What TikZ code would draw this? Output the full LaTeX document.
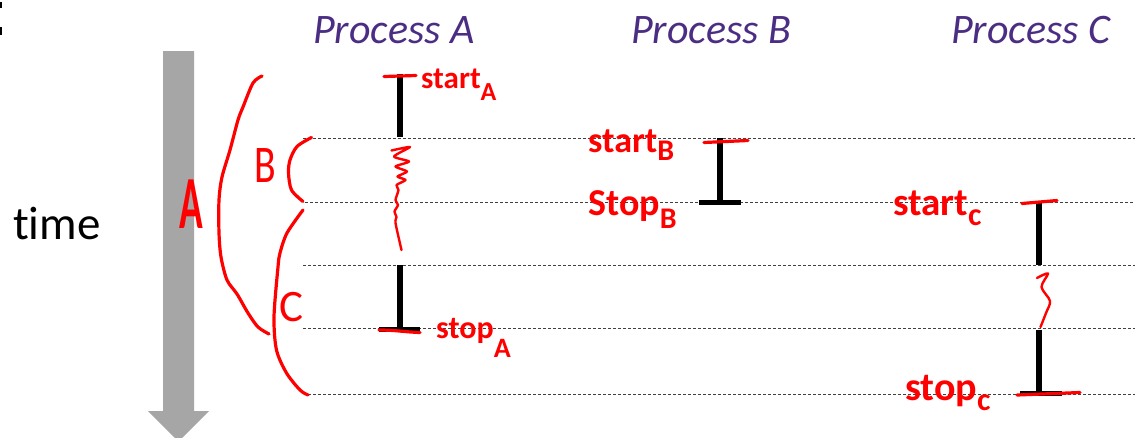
\documentclass[tikz,border=0pt]{standalone}
\usepackage{fontspec}
\setmainfont{Carlito}[Ligatures={NoCommon}]
\usetikzlibrary{calc}
\definecolor{procpurple}{RGB}{75,46,131}
\definecolor{arrowgray}{RGB}{166,166,166}
\definecolor{markred}{RGB}{255,0,0}
\newcommand{\subl}[3]{\raisebox{-#1pt}{\fontsize{#2}{#2}\selectfont #3}}
\tikzset{
  head/.style={text=procpurple, font=\itshape\fontsize{42}{48}\selectfont, anchor=base west, inner sep=0pt},
  dotline/.style={draw=black!75, line width=0.8pt, dash pattern=on 3pt off 2pt},
  bar/.style={draw=black, line width=6pt},
  barcap/.style={draw=black, line width=5pt},
  redmark/.style={draw=markred, line width=3.2pt, line cap=round, line join=round},
  hand/.style={text=markred, anchor=base west, inner sep=0pt},
  bigletter/.style={text=markred, inner sep=0pt, anchor=center}
}
\begin{document}
\begin{tikzpicture}[x=1pt,y=-1pt]
\clip (0,0) rectangle (1135,437);
\fill[white] (0,0) rectangle (1135,437);

% cut-off marks at the top-left edge
\fill[black] (0,2) rectangle (2,8);
\fill[black] (0,27) rectangle (2,35);

% time arrow
\fill[arrowgray] (163,51) -- (194,51) -- (194,411) -- (209,411) -- (178.5,441.5) -- (148,411) -- (163,411) -- cycle;
\node[anchor=base west, inner sep=0pt, font=\fontsize{47}{52}\selectfont] (time) at (13,239) {time};

% headings
\node[head] (pA) at (313,43) {Process A};
\node[head] (pB) at (631,43) {Process B};
\node[head] (pC) at (951,43) {Process C};

% dotted time lines
\foreach \y/\x in {138/303, 202/305, 265/303, 328/303, 394/308}
  \draw[dotline] (\x,\y) -- (1135,\y);

% Process A bars
\coordinate (aT) at (400,74);
\coordinate (aM1) at (400,137);
\coordinate (aM2) at (400,265);
\coordinate (aB) at (400,329);
\draw[bar] (aT) -- (aM1);
\draw[bar] (aM2) -- (aB);
\coordinate (aCl) at (379,329);
\coordinate (aCr) at (420,329);
\draw[barcap] (aCl) -- (aCr);

% Process B bars
\coordinate (bT) at (720,138);
\coordinate (bB) at (720,202);
\draw[bar] (bT) -- (bB);
\coordinate (bCl) at (699,202);
\coordinate (bCr) at (741,202);
\draw[barcap] (bCl) -- (bCr);

% Process C bars
\coordinate (cT) at (1039,201);
\coordinate (cM1) at (1039,265);
\coordinate (cM2) at (1039,330);
\coordinate (cB) at (1039,393);
\draw[bar] (cT) -- (cM1);
\draw[bar] (cM2) -- (cB);
\coordinate (cCl) at (1020,393);
\coordinate (cCr) at (1062,393);
\draw[barcap] (cCl) -- (cCr);

% red start/stop ticks
\draw[redmark] (384,76.5) -- (416,75.5);
\draw[redmark] (379,330) .. controls (395,330) and (405,332) .. (420,332.5);
\draw[redmark] (704,142.5) -- (748,140.5);
\draw[redmark] (1022,203.5) -- (1057,200.5);
\draw[redmark] (1017,395) -- (1080,392.5);

% squiggles (waiting)
\draw[redmark, line width=2.4pt] plot[smooth, tension=0.4] coordinates {(391.5,150.5) (410,147) (394,156.5) (409,161.5) (395.5,166.5) (407,171.5) (397.5,176.5) (405.5,180) (396.5,185) (398.5,190) (395.5,200) (398,205) (394.5,211.5) (396.5,217) (395.5,223) (401.5,250)};
\draw[redmark, line width=2.4pt] plot[smooth, tension=0.5] coordinates {(1037,278) (1048,273.5) (1041.5,287) (1050,301) (1046,313) (1040.5,327)};

% brackets
\draw[redmark] plot[smooth] coordinates {(262,76) (253,83) (243,107) (238,120) (230,150) (222,177) (219,200) (219,233) (221,257) (227,280) (237,294) (248,313) (258,327) (269,334)};
\draw[redmark] plot[smooth] coordinates {(311.5,137.5) (297,146.5) (290,160) (288.5,173) (291.5,190) (303,201.5)};
\draw[redmark] plot[smooth] coordinates {(303,210) (287,233) (280,253) (278,267) (274,317) (276.5,350) (286.5,373) (300,390) (308,395)};

% bracket letters
\node[bigletter, font=\bfseries\fontsize{75}{75}\selectfont] (lA) at (191,204) {\scalebox{0.52}[1]{A}};
\node[bigletter, font=\fontsize{53}{53}\selectfont] (lB) at (265.5,165) {\scalebox{0.75}[1]{B}};
\node[bigletter, font=\fontsize{45}{45}\selectfont] (lC) at (291,307.5) {C};

% start/stop labels
\node[hand, font=\bfseries\fontsize{31}{31}\selectfont] (sA) at (421,88) {start\subl{12}{26}{A}};
\node[hand, font=\bfseries\fontsize{32}{32}\selectfont] (eA) at (436,338) {stop\subl{19}{28}{A}};
\node[hand, font=\bfseries\fontsize{36}{36}\selectfont] (sB) at (588,152) {start\subl{8}{30}{B}};
\node[hand, font=\bfseries\fontsize{38}{38}\selectfont] (eB) at (588,215) {Stop\subl{13}{30}{B}};
\node[hand, font=\bfseries\fontsize{39}{39}\selectfont] (sC) at (893,215) {start\subl{10}{32}{c}};
\node[hand, font=\bfseries\fontsize{40}{40}\selectfont] (eC) at (905,400) {stop\subl{10}{32}{c}};
\end{tikzpicture}
\end{document}
